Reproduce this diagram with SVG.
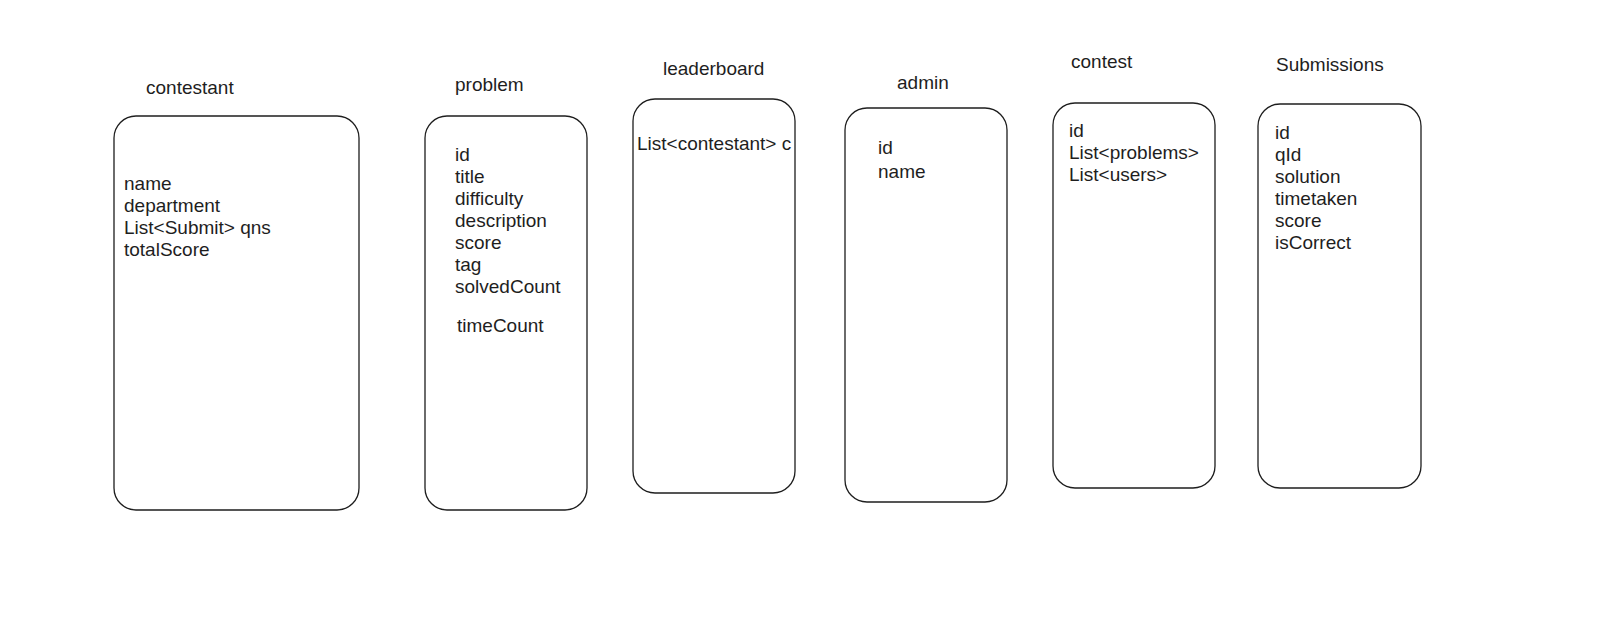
<svg xmlns="http://www.w3.org/2000/svg" width="1600" height="630" viewBox="0 0 1600 630">
<style>
.box{fill:none;stroke:#1e1e1e;stroke-width:1.3}
.t{font-family:"Liberation Sans","DejaVu Sans",sans-serif;font-size:19px;fill:#1e1e1e}
</style>
<rect width="1600" height="630" fill="#ffffff"/>
<g id="contestant">
<text class="t" x="146" y="94">contestant</text>
<rect class="box" x="114" y="116" width="245" height="394" rx="22"/>
<text class="t" x="124" y="190">name</text>
<text class="t" x="124" y="212">department</text>
<text class="t" x="124" y="234">List&lt;Submit&gt; qns</text>
<text class="t" x="124" y="256">totalScore</text>
</g>
<g id="problem">
<text class="t" x="455" y="91">problem</text>
<rect class="box" x="425" y="116" width="162" height="394" rx="22"/>
<text class="t" x="455" y="161">id</text>
<text class="t" x="455" y="183">title</text>
<text class="t" x="455" y="205">difficulty</text>
<text class="t" x="455" y="227">description</text>
<text class="t" x="455" y="249">score</text>
<text class="t" x="455" y="271">tag</text>
<text class="t" x="455" y="293">solvedCount</text>
<text class="t" x="457" y="332">timeCount</text>
</g>
<g id="leaderboard">
<text class="t" x="663" y="75">leaderboard</text>
<rect class="box" x="633" y="99" width="162" height="394" rx="22"/>
<text class="t" x="637" y="150">List&lt;contestant&gt; c</text>
</g>
<g id="admin">
<text class="t" x="897" y="89">admin</text>
<rect class="box" x="845" y="108" width="162" height="394" rx="22"/>
<text class="t" x="878" y="154">id</text>
<text class="t" x="878" y="178">name</text>
</g>
<g id="contest">
<text class="t" x="1071" y="68">contest</text>
<rect class="box" x="1053" y="103" width="162" height="385" rx="22"/>
<text class="t" x="1069" y="137">id</text>
<text class="t" x="1069" y="159">List&lt;problems&gt;</text>
<text class="t" x="1069" y="181">List&lt;users&gt;</text>
</g>
<g id="submissions">
<text class="t" x="1276" y="71">Submissions</text>
<rect class="box" x="1258" y="104" width="163" height="384" rx="22"/>
<text class="t" x="1275" y="139">id</text>
<text class="t" x="1275" y="161">qId</text>
<text class="t" x="1275" y="183">solution</text>
<text class="t" x="1275" y="205">timetaken</text>
<text class="t" x="1275" y="227">score</text>
<text class="t" x="1275" y="249">isCorrect</text>
</g>
<g id="connectors"></g>
</svg>
